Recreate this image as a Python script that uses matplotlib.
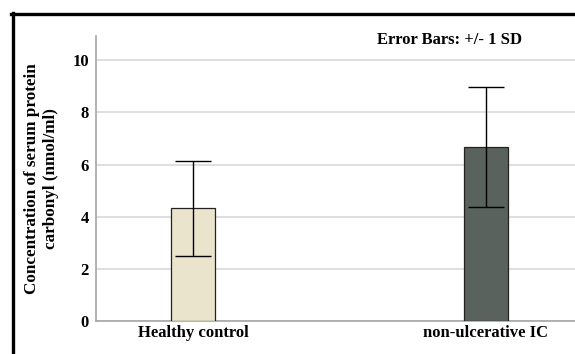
import matplotlib
matplotlib.use("Agg")
import matplotlib.pyplot as plt
from matplotlib.lines import Line2D

# data
groups = ["Healthy control", "non-ulcerative IC"]
means = [4.32, 6.66]
sds = [1.82, 2.30]
yticks = [0, 2, 4, 6, 8, 10]

bar_colors = ["#EAE4CC", "#59625C"]

plt.rcParams["font.family"] = ["Liberation Serif", "DejaVu Serif"]
plt.rcParams["font.weight"] = "bold"

fig = plt.figure(figsize=(5.75, 3.54), dpi=100)
ax = fig.add_axes([0.167, 0.093, 0.833, 0.805])

x = list(range(len(groups)))
ax.bar(x, means, width=0.15, color=bar_colors, edgecolor="#222222",
       linewidth=0.9, zorder=3)
ax.errorbar(x, means, yerr=sds, fmt="none", ecolor="black",
            elinewidth=1.0, capsize=13, capthick=1.0, zorder=4)

ax.set_xlim(-0.331, 1.304)
ax.set_ylim(0, 10.92)
ax.set_yticks(yticks)
ax.set_xticks(x)
ax.set_xticklabels(groups, fontsize=12, fontweight="bold")
ax.set_yticklabels([str(t) for t in yticks], fontsize=12, fontweight="bold")
ax.tick_params(axis="both", length=0, pad=5)
ax.tick_params(axis="x", pad=3)

#grid + spines
ax.yaxis.grid(True, color="#D9D9D9", linewidth=1.2, zorder=0)
ax.set_axisbelow(True)
for s in ["top", "right"]:
    ax.spines[s].set_visible(False)
ax.spines["left"].set_color("#A6A6A6")
ax.spines["bottom"].set_color("#A6A6A6")
ax.spines["left"].set_linewidth(1.2)
ax.spines["bottom"].set_linewidth(1.2)

ax.set_ylabel("Concentration of serum protein\ncarbonyl (nmol/ml)",
              fontsize=12.3, fontweight="bold", labelpad=10, linespacing=1.2)

fig.text(0.782, 0.887, "Error Bars: +/- 1 SD", ha="center", va="center",
         fontsize=12, fontweight="bold")

# black outer frame (cut off at right and bottom)
fig.add_artist(Line2D([11 / 575, 1.0], [1 - 14 / 354, 1 - 14 / 354],
                      transform=fig.transFigure, color="black", linewidth=2.4))
fig.add_artist(Line2D([12.5 / 575, 12.5 / 575], [0, 1 - 13 / 354],
                      transform=fig.transFigure, color="black", linewidth=2.4))

fig.savefig("out.png", dpi=100)
